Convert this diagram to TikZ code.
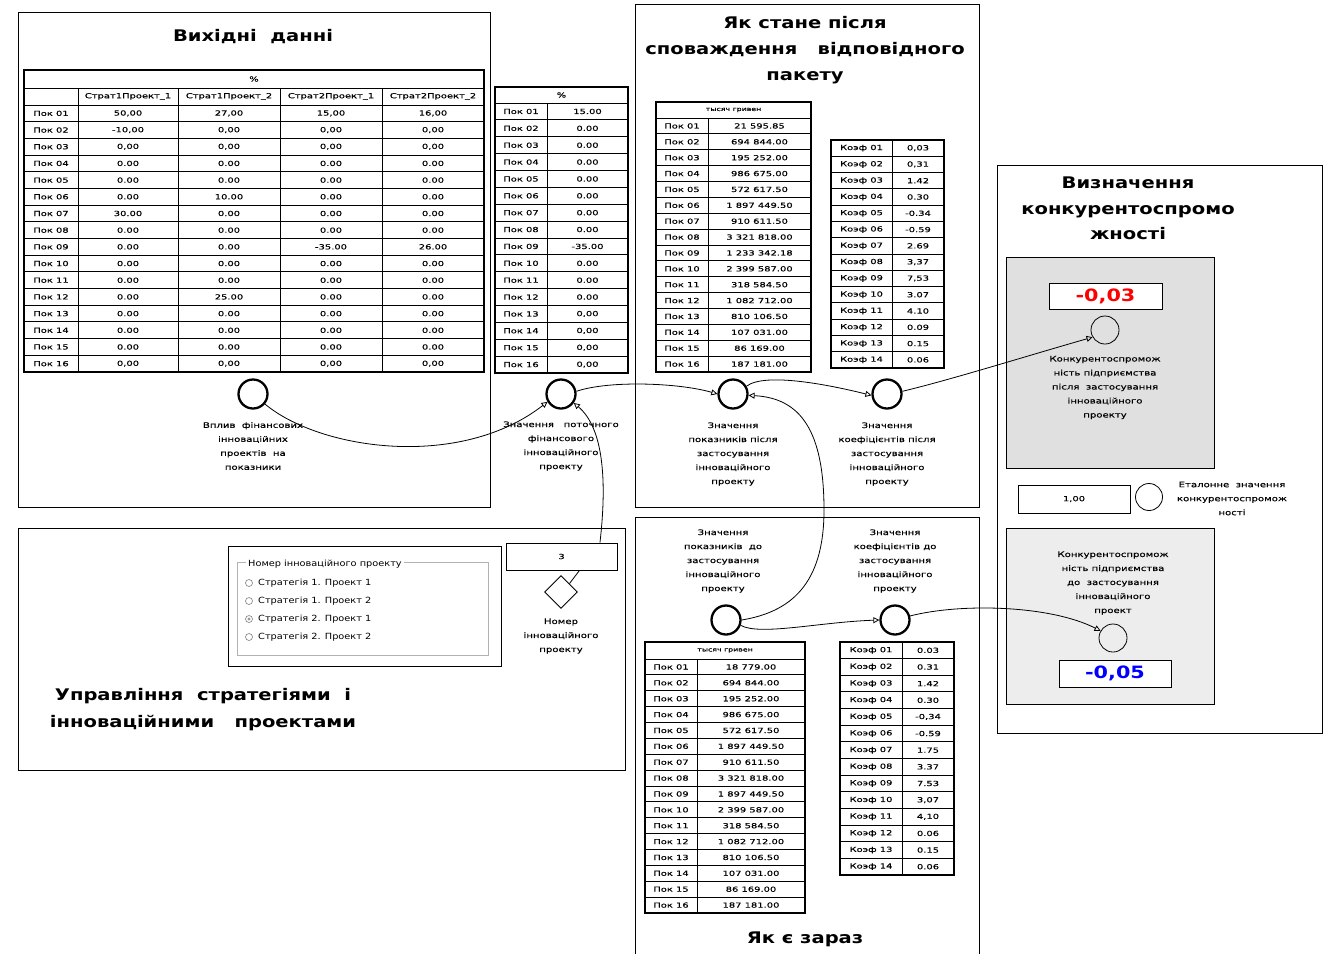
\documentclass[tikz,border=0pt]{standalone}
\usepackage{fontspec}
\setmainfont{DejaVu Sans}
\newfontfamily\tfam[FakeStretch=1.42,FakeBold=0.35]{DejaVu Sans}
\newfontfamily\lfam[FakeStretch=1.33,FakeBold=0.35]{DejaVu Sans}
\newfontfamily\rfam[FakeStretch=1.15]{DejaVu Sans}
\newfontfamily\hfam[FakeStretch=1.22]{DejaVu Sans}
\usetikzlibrary{arrows.meta,shapes.geometric}

\newcommand\twocoltab[7]{%
  \foreach \r/\v [count=\k] in {#7} {%
    \draw[tbl] (#2,{#5+#6*\k}) -- (#4,{#5+#6*\k});
    \node[tcell] (#1-\k-l) at ({(#2+#3)/2},{#5+#6*(\k-0.5)}) {\r};
    \node[tcell] (#1-\k-v) at ({(#3+#4)/2},{#5+#6*(\k-0.5)}) {\v};
  }%
}

\begin{document}
\begin{tikzpicture}[x=1pt,y=-1pt,
  panel/.style={draw,line width=1pt},
  tbl/.style={line width=0.9pt},
  tblo/.style={line width=1.4pt},
  tcell/.style={font=\tfam\fontsize{7}{8}\selectfont,inner sep=0pt},
  thead/.style={font=\tfam\fontsize{5.5}{6}\selectfont,inner sep=0pt},
  lbl/.style={font=\lfam\fontsize{7.6}{14}\selectfont,align=center,inner sep=0pt},
  ttl/.style={font=\hfam\bfseries\fontsize{16}{26}\selectfont,align=center,inner sep=0pt},
  rtxt/.style={font=\rfam\fontsize{8.5}{10}\selectfont,inner sep=0pt,anchor=west},
  bigc/.style={circle,draw,line width=2.3pt,minimum size=29pt,inner sep=0pt},
  smallc/.style={circle,draw,line width=0.8pt,minimum size=28pt,inner sep=0pt},
  conn/.style={line width=0.8pt,-{Triangle[open,length=6pt,width=6pt]}},
  plainc/.style={line width=0.8pt},
  valbox/.style={draw,line width=1pt,fill=white,inner sep=0pt},
  radio/.style={circle,draw=gray,line width=0.6pt,minimum size=7pt,inner sep=0pt}
]
\useasboundingbox (0,0) rectangle (1324,954);
\fill[white] (0,0) rectangle (1324,954);

% ---------- panels ----------
\draw[panel] (18,12) rectangle (490,507);
\draw[panel] (635,4) rectangle (979,507);
\draw[panel] (635,954) -- (635,517) -- (979,517) -- (979,954);
\draw[panel] (18,528) rectangle (625,770);
\draw[panel] (997,165) rectangle (1322,733);

\node[ttl] (tA) at (253,37) {Вихідні\ \ данні};
\node[ttl] (tB) at (805,50) {Як стане після\\споваждення\ \ \ відповідного\\пакету};
\node[ttl] (tC) at (805,939) {Як є зараз};
\node[ttl,font=\hfam\bfseries\fontsize{16}{27}\selectfont] (tD) at (203,709.5) {Управління\ \ стратегіями\ \ і\\інноваційними\ \ \ проектами};
\node[ttl,font=\hfam\bfseries\fontsize{16}{25.5}\selectfont] (tE) at (1128,208.5) {Визначення\\конкурентоспромо\\жності};

% ---------- table 1 ----------
\draw[tblo] (24,70) rectangle (484,372);
\draw[tbl] (24,88) -- (484,88);
\draw[tbl] (24,105) -- (484,105);
\foreach \x in {78,178,280,382} \draw[tbl] (\x,88) -- (\x,372);
\node[tcell] (t1h) at (254,79) {\%};
\node[tcell] (t1h2) at (128,96.5) {Страт1Проект\_1};
\node[tcell] (t1h3) at (229,96.5) {Страт1Проект\_2};
\node[tcell] (t1h4) at (331,96.5) {Страт2Проект\_1};
\node[tcell] (t1h5) at (433,96.5) {Страт2Проект\_2};
\foreach \r/\a/\b/\c/\d [count=\k] in {
  01/{50,00}/{27,00}/{15,00}/{16,00},
  02/{-10,00}/{0,00}/{0,00}/{0,00},
  03/{0,00}/{0,00}/{0,00}/{0,00},
  04/0.00/0.00/0.00/0.00,
  05/0.00/0.00/0.00/0.00,
  06/0.00/10.00/0.00/0.00,
  07/30.00/0.00/0.00/0.00,
  08/0.00/0.00/0.00/0.00,
  09/0.00/0.00/-35.00/26.00,
  10/0.00/0.00/0.00/0.00,
  11/0.00/0.00/0.00/0.00,
  12/0.00/25.00/0.00/0.00,
  13/0.00/0.00/0.00/0.00,
  14/0.00/0.00/0.00/0.00,
  15/0.00/0.00/0.00/0.00,
  16/{0,00}/{0,00}/{0,00}/{0,00}} {
  \draw[tbl] (24,{105+16.6875*\k}) -- (484,{105+16.6875*\k});
  \node[tcell] (t1-\k-0) at (51,{105+16.6875*(\k-0.5)}) {Пок \r};
  \node[tcell] (t1-\k-1) at (128,{105+16.6875*(\k-0.5)}) {\a};
  \node[tcell] (t1-\k-2) at (229,{105+16.6875*(\k-0.5)}) {\b};
  \node[tcell] (t1-\k-3) at (331,{105+16.6875*(\k-0.5)}) {\c};
  \node[tcell] (t1-\k-4) at (433,{105+16.6875*(\k-0.5)}) {\d};
}

% ---------- table 2 ----------
\draw[tblo] (495,87) rectangle (628,373);
\draw[tbl] (495,103) -- (628,103);
\draw[tbl] (547,103) -- (547,373);
\node[tcell] (t2h) at (561.5,95) {\%};
\twocoltab{t2}{495}{547}{628}{103}{16.875}{Пок 01/15.00, Пок 02/0.00, Пок 03/0.00, Пок 04/0.00, Пок 05/0.00, Пок 06/0.00, Пок 07/0.00, Пок 08/0.00, Пок 09/-35.00, Пок 10/0.00, Пок 11/0.00, Пок 12/0.00, Пок 13/{0,00}, Пок 14/{0,00}, Пок 15/{0,00}, Пок 16/{0,00}}

% ---------- table 3 (after) ----------
\draw[tblo] (656,102) rectangle (811,372);
\draw[tbl] (656,118) -- (811,118);
\draw[tbl] (708,118) -- (708,372);
\node[thead] (t3h) at (733.5,110) {тысяч гривен};
\twocoltab{t3}{656}{708}{811}{118}{15.875}{Пок 01/21 595.85, Пок 02/694 844.00, Пок 03/195 252.00, Пок 04/986 675.00, Пок 05/572 617.50, Пок 06/1 897 449.50, Пок 07/910 611.50, Пок 08/3 321 818.00, Пок 09/1 233 342.18, Пок 10/2 399 587.00, Пок 11/318 584.50, Пок 12/1 082 712.00, Пок 13/810 106.50, Пок 14/107 031.00, Пок 15/86 169.00, Пок 16/187 181.00}

% ---------- coef table (after) ----------
\draw[tblo] (831,140) rectangle (944,368);
\draw[tbl] (892,140) -- (892,368);
\twocoltab{k1}{831}{892}{944}{140}{16.2857}{Коэф 01/{0,03}, Коэф 02/{0,31}, Коэф 03/1.42, Коэф 04/0.30, Коэф 05/-0.34, Коэф 06/-0.59, Коэф 07/2.69, Коэф 08/{3,37}, Коэф 09/{7,53}, Коэф 10/3.07, Коэф 11/4.10, Коэф 12/0.09, Коэф 13/0.15, Коэф 14/0.06}

% ---------- table 4 (before) ----------
\draw[tblo] (645,642) rectangle (805,913);
\draw[tbl] (645,659) -- (805,659);
\draw[tbl] (697,659) -- (697,913);
\node[thead] (t4h) at (725,650.5) {тысяч гривен};
\twocoltab{t4}{645}{697}{805}{659}{15.875}{Пок 01/18 779.00, Пок 02/694 844.00, Пок 03/195 252.00, Пок 04/986 675.00, Пок 05/572 617.50, Пок 06/1 897 449.50, Пок 07/910 611.50, Пок 08/3 321 818.00, Пок 09/1 897 449.50, Пок 10/2 399 587.00, Пок 11/318 584.50, Пок 12/1 082 712.00, Пок 13/810 106.50, Пок 14/107 031.00, Пок 15/86 169.00, Пок 16/187 181.00}

% ---------- coef table (before) ----------
\draw[tblo] (840,642) rectangle (954,875);
\draw[tbl] (902,642) -- (902,875);
\twocoltab{k2}{840}{902}{954}{642}{16.643}{Коэф 01/0.03, Коэф 02/0.31, Коэф 03/1.42, Коэф 04/0.30, Коэф 05/{-0,34}, Коэф 06/-0.59, Коэф 07/1.75, Коэф 08/3.37, Коэф 09/7.53, Коэф 10/{3,07}, Коэф 11/{4,10}, Коэф 12/0.06, Коэф 13/0.15, Коэф 14/0.06}

% ---------- radio group ----------
\draw[line width=1pt] (228,546) rectangle (501,666);
\draw[gray!60,line width=0.9pt] (237,562) rectangle (488,655);
\node[rtxt,fill=white,inner xsep=2pt] (rgt) at (246,564) {Номер інноваційного проекту};
\node[radio] (rb1) at (249,583) {};
\node[radio] (rb2) at (249,601) {};
\node[radio] (rb3) at (249,619) {};
\node[radio] (rb4) at (249,637) {};
\fill[gray!80] (rb3) circle (1.6pt);
\node[rtxt] (rt1) at (258,583) {Стратегія 1. Проект 1};
\node[rtxt] (rt2) at (258,601) {Стратегія 1. Проект 2};
\node[rtxt] (rt3) at (258,619) {Стратегія 2. Проект 1};
\node[rtxt] (rt4) at (258,637) {Стратегія 2. Проект 2};

\node[valbox,minimum width=111pt,minimum height=27pt,font=\tfam\fontsize{7}{8}\selectfont] (b3) at (561.5,556.5) {3};
\node[diamond,draw,line width=0.9pt,minimum size=33pt,inner sep=0pt] (dia) at (561,592) {};
\node[lbl] (ldia) at (561,636) {Номер\\інноваційного\\проекту};

% ---------- circles ----------
\node[bigc] (c1) at (253,394) {};
\node[bigc] (c2) at (561,394) {};
\node[bigc] (c3) at (733,394) {};
\node[bigc] (c4) at (887,394) {};
\node[bigc] (c5) at (726,620) {};
\node[bigc] (c6) at (895,620) {};

\node[lbl] (l1) at (253,446) {Вплив\ \ фінансових\\інноваційних\\проектів\ \ на\\показники};
\node[lbl] (l2) at (561,446) {Значення\ \ \ поточного\\фінансового\\інноваційного\\проекту};
\node[lbl] (l3) at (733,454) {Значення\\показників після\\застосування\\інноваційного\\проекту};
\node[lbl] (l4) at (887,454) {Значення\\коефіцієнтів після\\застосування\\інноваційного\\проекту};
\node[lbl] (l5) at (723,561) {Значення\\показників\ \ до\\застосування\\інноваційного\\проекту};
\node[lbl] (l6) at (895,561) {Значення\\коефіцієнтів до\\застосування\\інноваційного\\проекту};

% ---------- right panel ----------
\draw[line width=1pt,fill=black!12] (1006,257) rectangle (1214,468);
\draw[line width=1pt,fill=black!7] (1006,528) rectangle (1214,704);
\node[valbox,minimum width=113pt,minimum height=26pt,text=red,font=\hfam\bfseries\fontsize{17}{18}\selectfont] (v1) at (1105.5,296) {-0,03};
\node[valbox,minimum width=112pt,minimum height=28pt,font=\tfam\fontsize{7}{8}\selectfont] (v0) at (1074,499) {1,00};
\node[valbox,minimum width=112pt,minimum height=27pt,text=blue,font=\hfam\bfseries\fontsize{17}{18}\selectfont] (v2) at (1115,673.5) {-0,05};
\node[smallc] (c7) at (1105,330) {};
\node[smallc,minimum size=27pt] (c8) at (1149,497) {};
\node[smallc] (c9) at (1113,638) {};
\node[lbl] (l7) at (1105,387.5) {Конкурентоспромож\\ність підприємства\\після\ \ застосування\\інноваційного\\проекту};
\node[lbl] (l8) at (1232,498.5) {Еталонне\ \ значення\\конкурентоспромож\\ності};
\node[lbl] (l9) at (1113,583) {Конкурентоспромож\\ність підприємства\\до\ \ застосування\\інноваційного\\проект};

% ---------- connectors ----------
\draw[conn] (c1.-40) .. controls (320,450) and (460,470) .. (c2.-150);
\draw[conn] (c2.10) .. controls (610,380) and (680,383) .. (c3.180);
\draw[conn] (c3.30) .. controls (765,372) and (830,385) .. (c4.185);
\draw[conn] (c5.0) .. controls (790,612) and (824,585) .. (824,510) .. controls (824,430) and (800,398) .. (c3.-5);
\draw[conn] (c5.-20) .. controls (760,636) and (820,622) .. (c6.180);
\draw[conn] (c4.10) .. controls (950,380) and (1030,355) .. (c7.-150);
\draw[conn] (c6.15) .. controls (960,603) and (1050,605) .. (c9.150);
\draw[conn] (b3.20) .. controls (606,490) and (606,430) .. (c2.-35);
\draw[plainc] (dia.45) -- (b3.-38);
\end{tikzpicture}
\end{document}
